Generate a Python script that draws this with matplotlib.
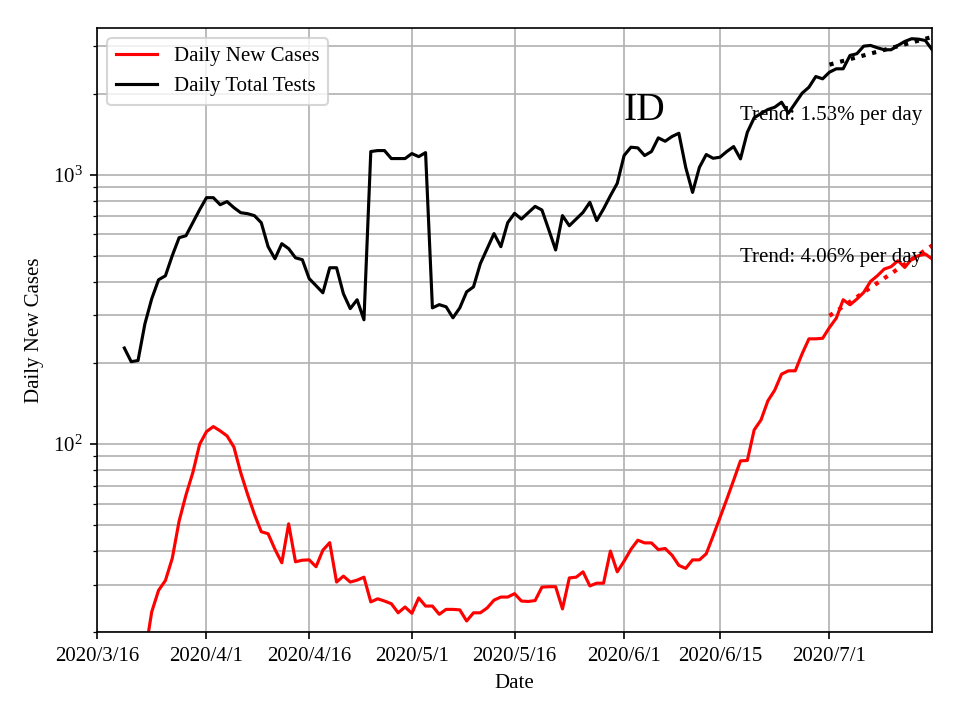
import numpy as np
import pandas as pd
import matplotlib
matplotlib.use('Agg')
import matplotlib.pyplot as plt

# times-like look
plt.rcParams['font.family'] = 'serif'
plt.rcParams['font.serif'] = ['Liberation Serif', 'DejaVu Serif']
plt.rcParams['mathtext.fontset'] = 'stix'

# daily total tests, starting 2020-03-20
tests_start = '2020-03-20'
tests = [227, 202, 204, 279, 346, 407, 421, 500, 583, 593, 663, 741, 821, 821,
         773, 794, 754, 722, 716, 704, 663, 540, 487, 554, 531, 491, 483, 411,
         387, 364, 451, 451, 361, 318, 343, 289, 1218, 1228, 1228, 1147, 1147,
         1147, 1197, 1166, 1207, 320, 329, 323, 294, 320, 367, 383, 467, 531,
         604, 540, 663, 718, 684, 722, 762, 739, 624, 525, 704, 646, 684, 724,
         789, 675, 746, 835, 928, 1177, 1264, 1257, 1177, 1218, 1369, 1330,
         1385, 1424, 1064, 859, 1064, 1187, 1150, 1160, 1218, 1271, 1144, 1436,
         1625, 1686, 1744, 1779, 1857, 1690, 1841, 2005, 2111, 2313, 2268,
         2401, 2471, 2471, 2770, 2811, 2999, 3017, 2958, 2908, 2908, 3017,
         3122, 3195, 3184, 3148, 2908]

# daily new cases, starting 2020-03-23
cases_start = '2020-03-23'
cases = [16.5, 23.8, 28.6, 31.1, 37.6, 51.7, 64.6, 78.2, 99.7, 111.1, 116,
         111.8, 107.1, 97.4, 78.2, 65, 54.8, 47.2, 46.4, 40.6, 36.2, 50.5, 36.5,
         37, 37.1, 35, 40.3, 43, 30.7, 32.3, 30.7, 31.2, 32, 25.9, 26.6, 26.1,
         25.5, 23.6, 24.8, 23.5, 26.8, 25, 25, 23.3, 24.3, 24.3, 24.2, 22, 23.6,
         23.6, 24.6, 26.3, 27, 27, 27.8, 26.1, 26, 26.2, 29.4, 29.5, 29.5, 24.4,
         31.8, 32, 33.5, 29.7, 30.4, 30.4, 40, 33.5, 36.7, 40.6, 43.9, 42.9,
         42.9, 40.5, 40.9, 38.6, 35.4, 34.5, 37.1, 37.1, 39.1, 45.5, 53.2, 62.3,
         73.3, 86.5, 86.8, 112.7, 122.8, 144.5, 158.3, 181.6, 186.8, 186.8, 216,
         245.6, 245.6, 246.7, 270.6, 293.3, 343, 328.6, 345, 365.2, 401.2,
         421.2, 446, 455, 479, 452.3, 486, 500, 507, 486]

tick_dates = ['2020-03-16', '2020-04-01', '2020-04-16', '2020-05-01',
              '2020-05-16', '2020-06-01', '2020-06-15', '2020-07-01']
tick_labels = ['2020/3/16', '2020/4/1', '2020/4/16', '2020/5/1',
               '2020/5/16', '2020/6/1', '2020/6/15', '2020/7/1']

trend_days = 16
tests_trend_label = 'Trend: 1.53% per day'
cases_trend_label = 'Trend: 4.06% per day'

tests_dates = pd.date_range(tests_start, periods=len(tests))
cases_dates = pd.date_range(cases_start, periods=len(cases))


def trend(dates, values, n):
    # exponential fit over the last n days
    x = np.arange(n)
    coef = np.polyfit(x, np.log(values[-n:]), 1)
    return dates[-n:], np.exp(np.polyval(coef, x))


fig = plt.figure(figsize=(6.4, 4.8), dpi=150)
ax = fig.add_subplot(111)
fig.subplots_adjust(left=0.101, right=0.971, top=0.961, bottom=0.122)

ax.plot(cases_dates, cases, color='red', label='Daily New Cases')
ax.plot(tests_dates, tests, color='black', label='Daily Total Tests')

td, tv = trend(cases_dates, cases, trend_days)
ax.plot(td, tv, color='red', linestyle=':', linewidth=2)
td, tv = trend(tests_dates, tests, trend_days)
ax.plot(td, tv, color='black', linestyle=':', linewidth=2)

ax.set_yscale('log')
ax.set_ylim(20, 3500)
ax.set_xlim(pd.Timestamp('2020-03-16'), pd.Timestamp('2020-07-16'))
ax.set_xticks(pd.to_datetime(tick_dates))
ax.set_xticklabels(tick_labels)

ax.grid(True, which='both')

ax.text(pd.Timestamp('2020-06-01'), 1600, 'ID', fontsize=19)
ax.text(pd.Timestamp('2020-06-18'), 1600, tests_trend_label)
ax.text(pd.Timestamp('2020-06-18'), 472, cases_trend_label)

ax.set_xlabel('Date')
ax.set_ylabel('Daily New Cases')
ax.legend(loc='upper left')

fig.savefig('out.png', dpi=150)
